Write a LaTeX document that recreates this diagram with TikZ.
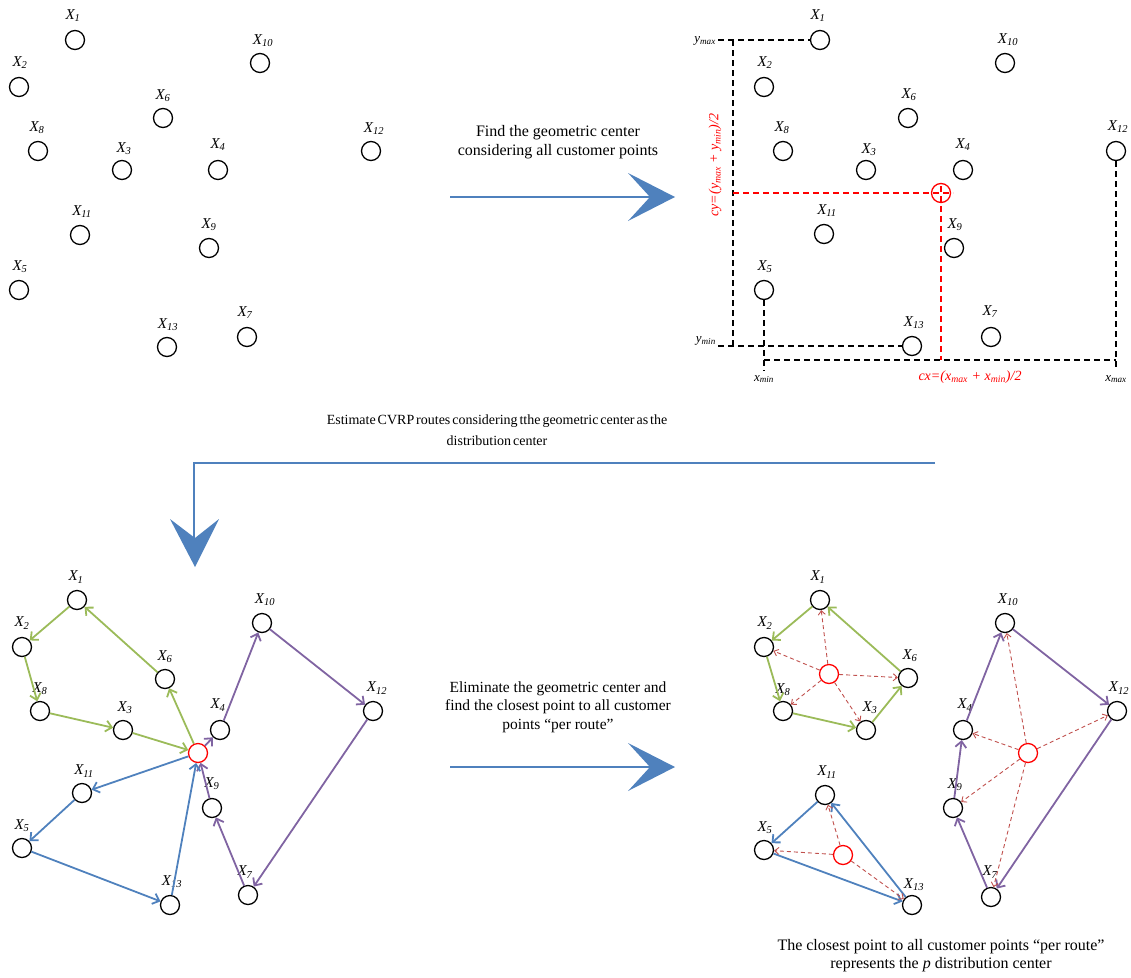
\documentclass[tikz,border=0pt]{standalone}
\usepackage{fontspec}
\setmainfont{Liberation Serif}
\newfontfamily\tightfont[WordSpace=0.55]{Liberation Serif}
\usetikzlibrary{arrows.meta}
\definecolor{rgreen}{HTML}{9BBB59}
\definecolor{rpurple}{HTML}{8064A2}
\definecolor{rblue}{HTML}{4F81BD}
\definecolor{rdash}{HTML}{C0504D}
\newcommand{\mypt}[6]{\node[pt] (#1) at (#2,#3) {}; \node[lab] (#1l) at (#4,#5) {X\textsubscript{#6}};}
\begin{document}
\begin{tikzpicture}[x=1pt,y=-1pt,
  pt/.style={circle,draw=black,line width=1.3pt,minimum size=19pt,inner sep=0pt},
  ctr/.style={circle,draw=red,line width=1.3pt,minimum size=19pt,inner sep=0pt},
  lab/.style={font=\fontsize{15}{15}\selectfont\itshape,inner sep=0pt},
  txt/.style={font=\fontsize{16}{19}\selectfont,align=center,inner sep=0pt},
  route/.style={line width=1.8pt,-{Straight Barb[length=6pt,width=11pt]}},
  gr/.style={route,draw=rgreen},
  pu/.style={route,draw=rpurple},
  bl/.style={route,draw=rblue},
  rd/.style={draw=rdash,line width=0.9pt,dash pattern=on 4pt off 3pt,-{Straight Barb[length=4pt,width=7pt]}},
  bdash/.style={draw=black,line width=1.5pt,dash pattern=on 6pt off 4pt},
  reddash/.style={draw=red,line width=1.5pt,dash pattern=on 6pt off 4pt},
  bigline/.style={draw=rblue,line width=2.2pt},
  bighead/.style={fill=rblue,draw=none},
  small/.style={font=\fontsize{13}{13}\selectfont\itshape,inner sep=0pt}
]
\useasboundingbox (0,0) rectangle (1131,977);

% ---------- Panel A (top-left) ----------
\mypt{a1}{75}{40}{73}{16}{1}
\mypt{a10}{260}{63}{263}{41}{10}
\mypt{a2}{19}{87}{20}{63}{2}
\mypt{a6}{163}{118}{163}{96}{6}
\mypt{a8}{38}{151}{37}{128}{8}
\mypt{a3}{122}{170}{124}{149}{3}
\mypt{a4}{218}{170}{218}{145}{4}
\mypt{a12}{371}{151}{374}{129}{12}
\mypt{a11}{80}{235}{82}{212}{11}
\mypt{a9}{209}{248}{209}{225}{9}
\mypt{a5}{19}{290}{20}{267}{5}
\mypt{a13}{167}{347}{168}{325}{13}
\mypt{a7}{247}{337}{245}{313}{7}

% ---------- Panel B (top-right) ----------
\mypt{b1}{820}{40}{818}{16}{1}
\mypt{b10}{1005}{63}{1008}{40}{10}
\mypt{b2}{764}{87}{765}{63}{2}
\mypt{b6}{908}{118}{909}{95}{6}
\mypt{b8}{783}{151}{782}{128}{8}
\mypt{b3}{866}{170}{869}{150}{3}
\mypt{b4}{963}{170}{963}{145}{4}
\mypt{b12}{1116}{151}{1118}{127}{12}
\mypt{b11}{824}{234}{827}{211}{11}
\mypt{b9}{954}{248}{955}{225}{9}
\mypt{b5}{764}{290}{765}{267}{5}
\mypt{b13}{912}{346}{914}{323}{13}
\mypt{b7}{991}{337}{990}{312}{7}
\node[ctr] (bc) at (941,193) {};

\coordinate (ymaxL) at (718,40);
\coordinate (vtop) at (733,40);
\coordinate (vbot) at (733,346);
\coordinate (yminL) at (718,346);
\coordinate (xminB) at (764,371);
\coordinate (hl) at (764,360);
\coordinate (hr) at (1116,360);
\coordinate (xmaxB) at (1116,371);
\coordinate (rl) at (733,193);
\coordinate (rr) at (953,193);
\coordinate (rt) at (941,186);
\coordinate (rb) at (941,360);
\draw[bdash] (ymaxL) -- (b1);
\draw[bdash] (vtop) -- (vbot);
\draw[bdash] (yminL) -- (b13);
\draw[bdash] (b5) -- (xminB);
\draw[bdash] (hl) -- (hr);
\draw[bdash] (b12) -- (xmaxB);
\draw[reddash] (rl) -- (rr);
\draw[reddash] (rt) -- (rb);
\node[small,anchor=east] (ymaxt) at (716,41) {y\textsubscript{max}};
\node[small,anchor=east] (ymint) at (716,341) {y\textsubscript{min}};
\node[small] (xmint) at (764,379) {x\textsubscript{min}};
\node[small] (xmaxt) at (1116,379) {x\textsubscript{max}};
\node[small,text=red,font=\fontsize{14}{14}\selectfont\itshape,rotate=90] (cyt) at (715,165) {cy=(y\textsubscript{max} + y\textsubscript{min})/2};
\node[small,text=red,font=\fontsize{14}{14}\selectfont\itshape] (cxt) at (970,377) {cx=(x\textsubscript{max} + x\textsubscript{min})/2};

% ---------- Arrows and texts ----------
\node[txt] (t1) at (558,142) {Find the geometric center\\considering all customer points};
\coordinate (a1s) at (450,197);
\coordinate (a1e) at (652,197);
\draw[bigline] (a1s) -- (a1e);
\fill[bighead] (628,173) -- (675,197) -- (628,221) -- (650,197) -- cycle;

\node[txt,font=\tightfont\fontsize{14}{21}\selectfont] (t2) at (497,430) {Estimate CVRP routes considering tthe geometric center as the\\distribution center};
\coordinate (d1s) at (935,463);
\coordinate (d1m) at (194,463);
\coordinate (d1e) at (194,540);
\draw[bigline] (d1s) -- (d1m) -- (d1e);
\fill[bighead] (170,519) -- (195,567) -- (219,519) -- (195,538) -- cycle;

\node[txt,font=\fontsize{15.5}{18.5}\selectfont] (t3) at (558,707) {Eliminate the geometric center and\\find the closest point to all customer\\points “per route”};
\coordinate (a2s) at (450,767);
\coordinate (a2e) at (652,767);
\draw[bigline] (a2s) -- (a2e);
\fill[bighead] (628,743) -- (675,767) -- (628,791) -- (650,767) -- cycle;

\node[txt,font=\fontsize{16}{18}\selectfont] (t4) at (941,956) {The closest point to all customer points “per route”\\represents the \textit{p} distribution center};

% ---------- Panel C (bottom-left) ----------
\mypt{c1}{77}{600}{76}{577}{1}
\mypt{c2}{22}{647}{22}{623}{2}
\mypt{c8}{40}{711}{40}{689}{8}
\mypt{c3}{123}{730}{125}{708}{3}
\mypt{c6}{165}{679}{165}{657}{6}
\mypt{c4}{220}{730}{218}{705}{4}
\mypt{c10}{262}{623}{265}{600}{10}
\mypt{c12}{373}{711}{377}{688}{12}
\mypt{c11}{82}{793}{84}{771}{11}
\mypt{c9}{212}{808}{212}{784}{9}
\mypt{c5}{22}{848}{22}{826}{5}
\mypt{c13}{170}{905}{172}{882}{13}
\mypt{c7}{248}{895}{245}{872}{7}
\node[ctr] (cc) at (198,753) {};

\draw[gr] (cc) -- (c6);
\draw[gr] (c6) -- (c1);
\draw[gr] (c1) -- (c2);
\draw[gr] (c2) -- (c8);
\draw[gr] (c8) -- (c3);
\draw[gr] (c3) -- (cc);
\draw[pu] (cc) -- (c4);
\draw[pu] (c4) -- (c10);
\draw[pu] (c10) -- (c12);
\draw[pu] (c12) -- (c7);
\draw[pu] (c7) -- (c9);
\draw[pu] (c9) -- (cc);
\draw[bl] (cc) -- (c11);
\draw[bl] (c11) -- (c5);
\draw[bl] (c5) -- (c13);
\draw[bl] (c13) -- (cc);

% ---------- Panel D (bottom-right) ----------
\mypt{d1}{820}{600}{818}{577}{1}
\mypt{d2}{764}{647}{765}{623}{2}
\mypt{d6}{908}{678}{910}{656}{6}
\mypt{d8}{783}{711}{783}{690}{8}
\mypt{d3}{866}{730}{870}{708}{3}
\mypt{d10}{1005}{623}{1008}{600}{10}
\mypt{d12}{1117}{711}{1119}{688}{12}
\mypt{d4}{963}{730}{965}{705}{4}
\mypt{d9}{953}{808}{955}{785}{9}
\mypt{d7}{991}{897}{990}{872}{7}
\mypt{d11}{825}{795}{827}{772}{11}
\mypt{d5}{764}{850}{765}{828}{5}
\mypt{d13}{912}{905}{914}{885}{13}
\node[ctr] (dc1) at (829,674) {};
\node[ctr] (dc2) at (1028,753) {};
\node[ctr] (dc3) at (843,855) {};

\draw[gr] (d1) -- (d2);
\draw[gr] (d2) -- (d8);
\draw[gr] (d8) -- (d3);
\draw[gr] (d3) -- (d6);
\draw[gr] (d6) -- (d1);
\draw[pu] (d4) -- (d10);
\draw[pu] (d10) -- (d12);
\draw[pu] (d12) -- (d7);
\draw[pu] (d7) -- (d9);
\draw[pu] (d9) -- (d4);
\draw[bl] (d11) -- (d5);
\draw[bl] (d5) -- (d13);
\draw[bl] (d13) -- (d11);

\foreach \t in {d1,d2,d8,d3,d6} \draw[rd] (dc1) -- (\t);
\foreach \t in {d10,d4,d12,d9,d7} \draw[rd] (dc2) -- (\t);
\foreach \t in {d11,d5,d13} \draw[rd] (dc3) -- (\t);
\end{tikzpicture}
\end{document}
